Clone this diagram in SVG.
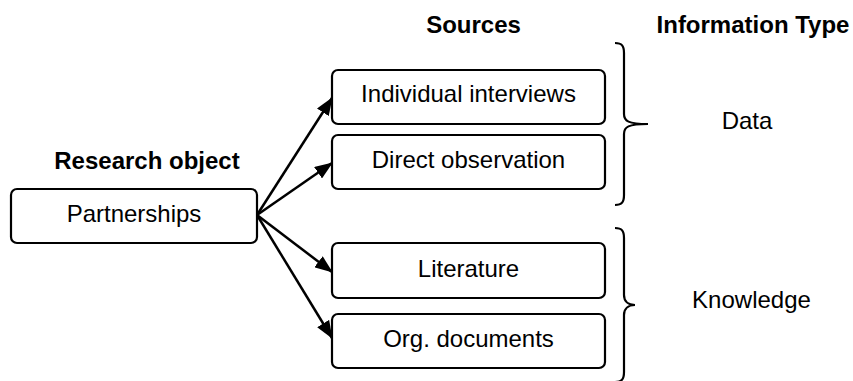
<svg xmlns="http://www.w3.org/2000/svg" width="853" height="381" viewBox="0 0 853 381">
<defs>
<style>
.box{fill:#fff;stroke:#000;stroke-width:2.2}
.t{font-family:"Liberation Sans",Arial,sans-serif;font-size:24px;fill:#000;text-anchor:middle}
.h{font-family:"Liberation Sans",Arial,sans-serif;font-size:24px;font-weight:bold;fill:#000;text-anchor:middle}
.edge{stroke:#000;stroke-width:2.5;fill:none}
.brace{stroke:#000;stroke-width:2.2;fill:none}
</style>
<marker id="arr" viewBox="0 0 18 14" refX="17" refY="7" markerWidth="18" markerHeight="14" markerUnits="userSpaceOnUse" orient="auto">
<path d="M0,0 L18,7 L0,14 Z" fill="#000"/>
</marker>
</defs>
<rect width="853" height="381" fill="#fff"/>
<text class="h" x="473.5" y="33">Sources</text>
<text class="h" x="753" y="33">Information Type</text>
<text class="h" x="147" y="169">Research object</text>
<g id="connectors">
<line class="edge" x1="257" y1="215" x2="332" y2="98" marker-end="url(#arr)"/>
<line class="edge" x1="257" y1="215" x2="332" y2="163" marker-end="url(#arr)"/>
<line class="edge" x1="257" y1="215" x2="332" y2="272" marker-end="url(#arr)"/>
<line class="edge" x1="257" y1="215" x2="332" y2="338" marker-end="url(#arr)"/>
</g>
<g id="partnerships">
<rect class="box" x="11" y="189" width="246" height="54" rx="6"/>
<text class="t" x="134" y="222">Partnerships</text>
</g>
<g id="interviews">
<rect class="box" x="332" y="70" width="273" height="54" rx="6"/>
<text class="t" x="468.5" y="102">Individual interviews</text>
</g>
<g id="observation">
<rect class="box" x="332" y="135" width="273" height="54" rx="6"/>
<text class="t" x="468.5" y="168">Direct observation</text>
</g>
<g id="literature">
<rect class="box" x="332" y="243" width="273" height="55" rx="6"/>
<text class="t" x="468.5" y="277">Literature</text>
</g>
<g id="documents">
<rect class="box" x="332" y="314" width="273" height="54" rx="6"/>
<text class="t" x="468.5" y="347">Org. documents</text>
</g>
<g id="data">
<path class="brace" d="M615,43 C622,43 624,46 624,53 L624,114 C624,121 628,124 648,124 C628,124 624,127 624,134 L624,195 C624,202 622,205 615,205"/>
<text class="t" x="747" y="129">Data</text>
</g>
<g id="knowledge">
<path class="brace" d="M615,228 C622,228 624,231 624,238 L624,295 C624,301 628,305 635,305 C628,305 624,309 624,315 L624,372 C624,379 622,382 615,382"/>
<text class="t" x="751.5" y="308">Knowledge</text>
</g>
</svg>
